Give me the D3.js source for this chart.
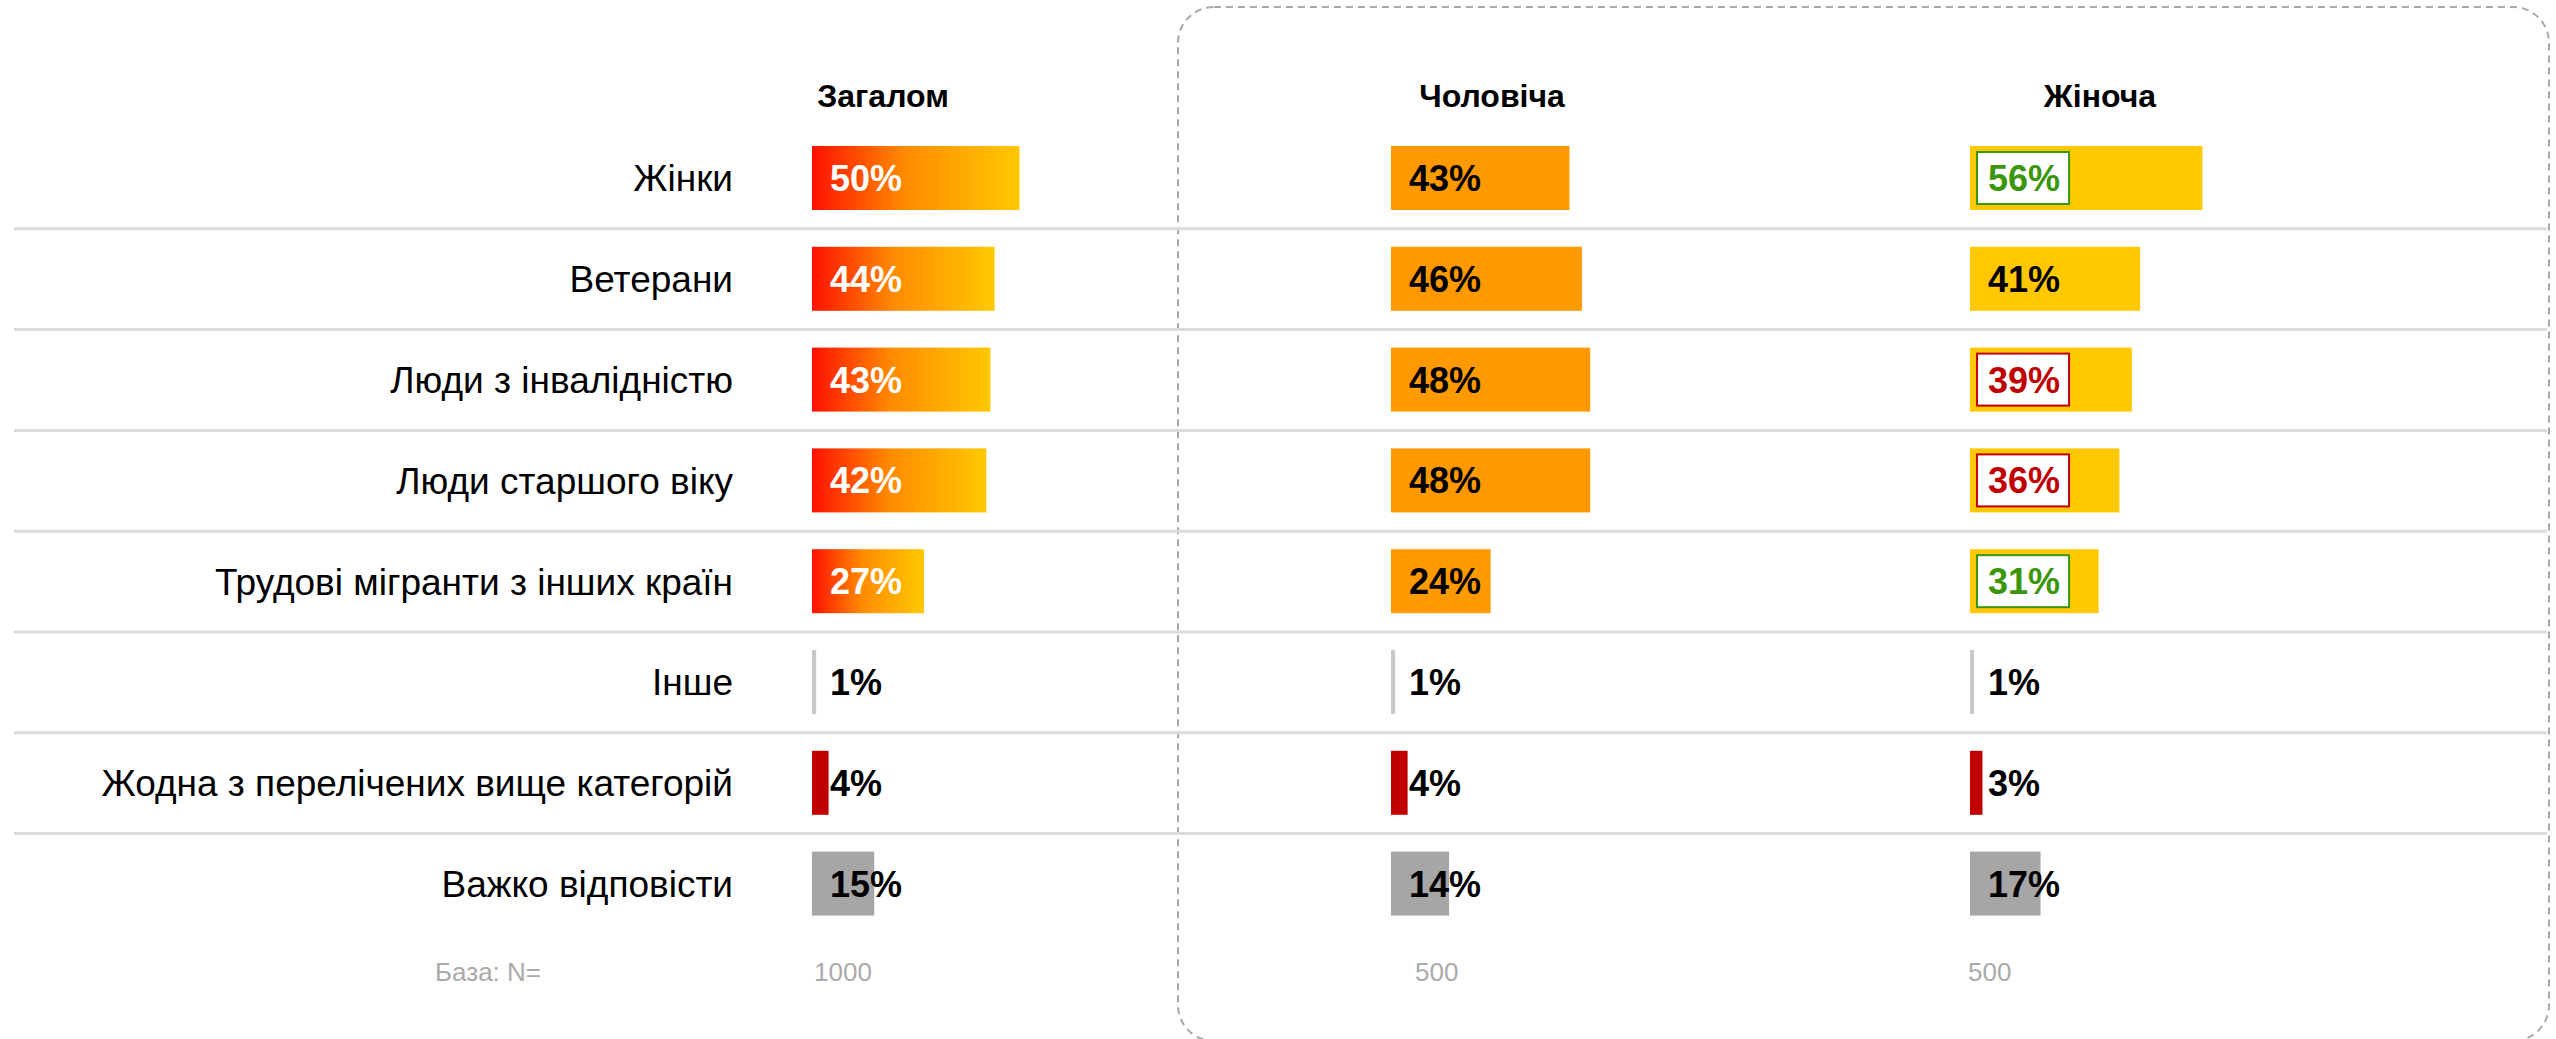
<!DOCTYPE html>
<html>
<head>
<meta charset="utf-8">
<script src="https://cdn.jsdelivr.net/npm/d3@7"></script>
<style>
  html, body { margin: 0; padding: 0; background: #fff; }
  svg { display: block; font-family: "Liberation Sans", Arial, sans-serif; }
</style>
</head>
<body>
<div id="chart"></div>
<script>
/* Target groups: overall vs. male / female answers. */

var categories = [
  "Жінки",
  "Ветерани",
  "Люди з інвалідністю",
  "Люди старшого віку",
  "Трудові мігранти з інших країн",
  "Інше",
  "Жодна з перелічених вище категорій",
  "Важко відповісти"
];
// how each row is coloured: main answers, "other", "none", "hard to say"
var rowKinds = ["main", "main", "main", "main", "main", "other", "none", "dk"];

var columns = ["Загалом", "Чоловіча", "Жіноча"];
var overall = [50, 44, 43, 42, 27, 1, 4, 15];
var male = [43, 46, 48, 48, 24, 1, 4, 14];
var female = [56, 41, 39, 36, 31, 1, 3, 17];
// significance of female vs overall: "up" green box, "down" red box
var femaleSig = ["up", "", "down", "down", "up", "", "", ""];
var bases = [1000, 500, 500];
var baseLabel = "База: N=";

(function render() {
  var d3 = window.d3;
  var width = 2556, height = 1039;
  var series = [overall, male, female];
  var sigs = [null, null, femaleSig];

  var colX = [812, 1391, 1970];
  var headX = [883, 1492, 2100];
  var baseX = [814, 1415, 1968];
  var labelRight = 733;
  var barH = 64;

  var mainFill = ["url(#gradOverall)", "#ff9900", "#ffc800"];
  var kindFill = { other: "#c8c8c8", none: "#c00000", dk: "#a6a6a6" };
  var sigColor = { up: "#3a960a", down: "#c00000" };

  var svg = d3.select("#chart").append("svg")
    .attr("width", width).attr("height", height)
    .attr("viewBox", "0 0 " + width + " " + height);

  var grad = svg.append("defs").append("linearGradient")
    .attr("id", "gradOverall").attr("x1", "0").attr("x2", "1").attr("y1", "0").attr("y2", "0");
  grad.append("stop").attr("offset", "0%").attr("stop-color", "#ff1100");
  grad.append("stop").attr("offset", "45%").attr("stop-color", "#ff8c00");
  grad.append("stop").attr("offset", "100%").attr("stop-color", "#ffc800");

  var x = d3.scaleLinear().domain([0, 100]).range([0, 415]);
  var y = d3.scaleBand().domain(categories).range([128, 128 + 8 * 100.8]);
  var step = y.step();

  /* Dashed frame around the gender columns */
  svg.append("rect")
    .attr("x", 1178).attr("y", 7).attr("width", 1371).attr("height", 1034)
    .attr("rx", 36).attr("ry", 36)
    .attr("fill", "none").attr("stroke", "#a8a8a8").attr("stroke-width", 2)
    .attr("stroke-dasharray", "7,5");

  /* Row separators */
  categories.slice(0, categories.length - 1).forEach(function (c) {
    svg.append("line")
      .attr("x1", 14).attr("x2", 2547)
      .attr("y1", y(c) + step).attr("y2", y(c) + step)
      .attr("stroke", "#dcdcdc").attr("stroke-width", 3);
  });

  /* Column headers */
  columns.forEach(function (h, i) {
    svg.append("text")
      .attr("x", headX[i]).attr("y", 107)
      .attr("text-anchor", "middle")
      .attr("font-size", 32).attr("font-weight", "bold").attr("fill", "#000")
      .text(h);
  });

  /* Row labels */
  categories.forEach(function (c) {
    svg.append("text")
      .attr("x", labelRight).attr("y", y(c) + 18 + barH / 2)
      .attr("dy", "0.36em")
      .attr("text-anchor", "end")
      .attr("font-size", 37).attr("fill", "#000")
      .text(c);
  });

  /* Bars and values */
  series.forEach(function (vals, ci) {
    var g = svg.append("g").attr("transform", "translate(" + colX[ci] + ",0)");
    vals.forEach(function (v, ri) {
      var c = categories[ri];
      var kind = rowKinds[ri];
      var top = y(c) + 18;
      g.append("rect")
        .attr("x", 0).attr("y", top)
        .attr("width", x(v)).attr("height", barH)
        .attr("fill", kind === "main" ? mainFill[ci] : kindFill[kind]);

      var sig = sigs[ci] ? sigs[ci][ri] : "";
      var txtColor = sig ? sigColor[sig] : (kind === "main" && ci === 0 ? "#fff" : "#000");
      var boxG = g.append("g");
      var t = g.append("text")
        .attr("x", 18).attr("y", top + barH / 2).attr("dy", "0.36em")
        .attr("font-size", 36).attr("font-weight", "bold").attr("fill", txtColor)
        .text(v + "%");
      if (sig) {
        var bb = t.node().getBBox();
        boxG.append("rect")
          .attr("x", bb.x - 11).attr("y", top + 6)
          .attr("width", bb.width + 20).attr("height", barH - 12)
          .attr("fill", "#fff").attr("stroke", sigColor[sig]).attr("stroke-width", 2);
      }
    });
  });

  /* Base sizes */
  svg.append("text")
    .attr("x", 435).attr("y", 981)
    .attr("font-size", 26).attr("fill", "#aaa")
    .text(baseLabel);
  bases.forEach(function (b, i) {
    svg.append("text")
      .attr("x", baseX[i]).attr("y", 981)
      .attr("font-size", 26).attr("fill", "#aaa")
      .text(b);
  });
})();
</script>
</body>
</html>
